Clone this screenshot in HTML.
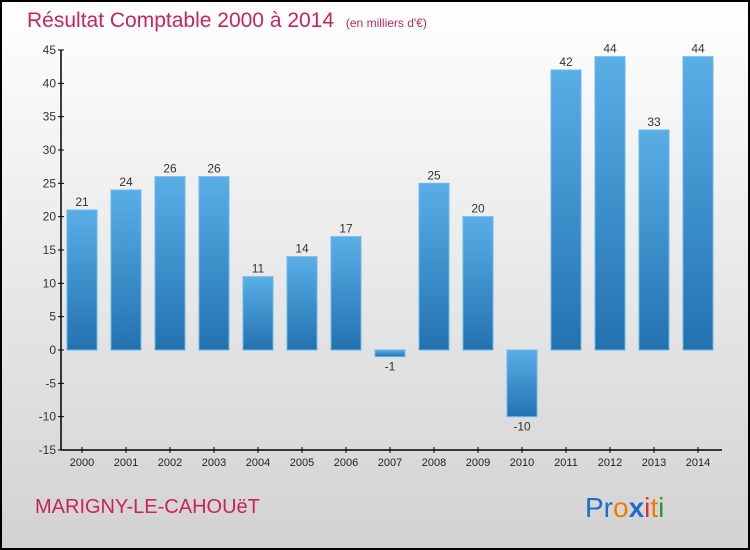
<!DOCTYPE html>
<html><head><meta charset="utf-8"><style>
body{margin:0;width:750px;height:550px;overflow:hidden}
svg{display:block}
text{font-family:"Liberation Sans",sans-serif}
</style></head><body>
<svg id="c" width="750" height="550">
<defs>
<linearGradient id="bg" x1="0" y1="0" x2="0" y2="1"><stop offset="0" stop-color="#ffffff"/><stop offset="1" stop-color="#d2d2d2"/></linearGradient>
<linearGradient id="bar" x1="0" y1="0" x2="0" y2="1"><stop offset="0" stop-color="#5aaee6"/><stop offset="1" stop-color="#2272b0"/></linearGradient>
</defs>
<rect x="1" y="1" width="748" height="548" fill="url(#bg)" stroke="#000" stroke-width="2"/>
<text x="27" y="27" font-size="21" fill="#c8245a">Résultat Comptable 2000 à 2014 <tspan font-size="12" dx="6">(en milliers d'€)</tspan></text>
<text x="35" y="513" font-size="20" fill="#c8245a">MARIGNY-LE-CAHOUëT</text>
<g font-size="28">
<text x="585" y="517"><tspan fill="#1a6fc8">Pr</tspan><tspan fill="#f07d00">o</tspan><tspan fill="#1a6fc8" font-weight="bold">x</tspan><tspan fill="#e03020">i</tspan><tspan fill="#f07d00">t</tspan><tspan fill="#2a9a3a">i</tspan></text>
</g>
<g id="plot"></g>
</svg>
<script>
const categories=["2000","2001","2002","2003","2004","2005","2006","2007","2008","2009","2010","2011","2012","2013","2014"];
const values=[21,24,26,26,11,14,17,-1,25,20,-10,42,44,33,44];
const yTicks=[-15,-10,-5,0,5,10,15,20,25,30,35,40,45];
const y=v=>350-v*(300/45);
const x=i=>82+i*44;
const g=document.getElementById('plot');
const NS='http://www.w3.org/2000/svg';
function el(t,a,p){const e=document.createElementNS(NS,t);for(const k in a)e.setAttribute(k,a[k]);(p||g).appendChild(e);return e;}
const ya=el('line',{x1:61,y1:y(45),x2:61,y2:y(-15),stroke:'#000','stroke-width':1.5});


const xa=el('line',{x1:61,y1:y(-15),x2:722,y2:y(-15),stroke:'#000','stroke-width':1.5});


yTicks.forEach(t=>{
 el('line',{x1:58,x2:64,y1:y(t),y2:y(t),stroke:'#000'});
 const tx=el('text',{x:56,y:y(t)+4,'font-size':12,'text-anchor':'end',fill:'#333'});
 tx.textContent=t;
 
 
});
categories.forEach((c,i)=>{
 el('line',{x1:x(i),x2:x(i),y1:y(-15)-3,y2:y(-15)+3,stroke:'#000'});
 const tx=el('text',{x:x(i),y:y(-15)+16,'font-size':11,'text-anchor':'middle',fill:'#222'});
 tx.textContent=c;
 
 
 const v=values[i];
 const top=Math.min(y(v),y(0)),h=Math.abs(y(v)-y(0));
 const b=el('rect',{x:x(i)-15,y:top,width:30,height:h,fill:'url(#bar)',stroke:'#6ab8ee','stroke-width':1});
 
 
 const lb=el('text',{x:x(i),y:v>=0?y(v)-4:y(v)+14,'font-size':12,'text-anchor':'middle',fill:'#333'});
 lb.textContent=v;
 
 
});
</script>
</body></html>
